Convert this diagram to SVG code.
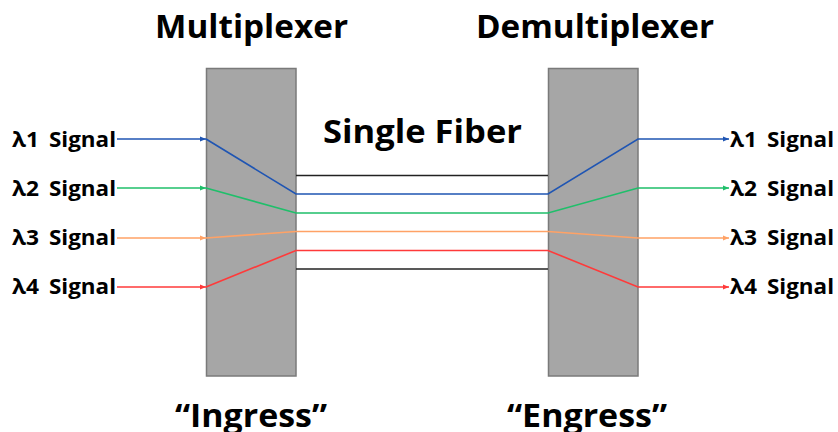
<svg xmlns="http://www.w3.org/2000/svg" width="838" height="432" viewBox="0 0 838 432">
<style>
.t{font-family:"Open Sans","Liberation Sans",sans-serif;font-weight:700;fill:#000}
.h{font-size:32px}
.s{font-size:22px}
.box{fill:#a6a6a6;stroke:#7a7a7a;stroke-width:1.5}
.w{fill:none;stroke-width:1.6}
.b{stroke:#1f55b3}.g{stroke:#1fbf6a}.o{stroke:#ffa266}.r{stroke:#ff3a3a}.k{stroke:#222;stroke-width:1.6}
</style>
<defs>
<marker id="ab" viewBox="0 0 10 10" refX="10" refY="5" markerWidth="6" markerHeight="6" orient="auto" markerUnits="userSpaceOnUse"><path d="M0,1 L10,5 L0,9 Z" fill="#1f55b3"/></marker>
<marker id="ag" viewBox="0 0 10 10" refX="10" refY="5" markerWidth="6" markerHeight="6" orient="auto" markerUnits="userSpaceOnUse"><path d="M0,1 L10,5 L0,9 Z" fill="#1fbf6a"/></marker>
<marker id="ao" viewBox="0 0 10 10" refX="10" refY="5" markerWidth="6" markerHeight="6" orient="auto" markerUnits="userSpaceOnUse"><path d="M0,1 L10,5 L0,9 Z" fill="#ffa266"/></marker>
<marker id="ar" viewBox="0 0 10 10" refX="10" refY="5" markerWidth="6" markerHeight="6" orient="auto" markerUnits="userSpaceOnUse"><path d="M0,1 L10,5 L0,9 Z" fill="#ff3a3a"/></marker>
</defs>
<g id="mux"><rect class="box" x="206.5" y="68.5" width="89.5" height="307.5"/></g>
<g id="demux"><rect class="box" x="548.5" y="68.5" width="89.5" height="307.5"/></g>
<g id="connectors">
<line class="k" x1="296" y1="175.5" x2="548" y2="175.5"/>
<line class="k" x1="296" y1="269" x2="548" y2="269"/>
<line class="w b" x1="117" y1="139" x2="206" y2="139" marker-end="url(#ab)"/>
<line class="w g" x1="117" y1="188" x2="206" y2="188" marker-end="url(#ag)"/>
<line class="w o" x1="117" y1="238" x2="206" y2="238" marker-end="url(#ao)"/>
<line class="w r" x1="117" y1="287" x2="206" y2="287" marker-end="url(#ar)"/>
<polyline class="w b" points="206,139 296,194 548,194 638,139 729,139" marker-end="url(#ab)"/>
<polyline class="w g" points="206,188 296,213 548,213 638,188 729,188" marker-end="url(#ag)"/>
<polyline class="w o" points="206,238 296,231.5 548,231.5 638,238 729,238" marker-end="url(#ao)"/>
<polyline class="w r" points="206,287 296,250.5 548,250.5 638,287 729,287" marker-end="url(#ar)"/>
</g>
<g id="labels">
<text class="t h" x="155" y="38" textLength="193" lengthAdjust="spacingAndGlyphs">Multiplexer</text>
<text class="t h" x="476" y="38" textLength="238" lengthAdjust="spacingAndGlyphs">Demultiplexer</text>
<text class="t h" x="323" y="143" textLength="199" lengthAdjust="spacingAndGlyphs">Single Fiber</text>
<text class="t h" x="175" y="427" textLength="152" lengthAdjust="spacingAndGlyphs">“Ingress”</text>
<text class="t h" x="507" y="427" textLength="160" lengthAdjust="spacingAndGlyphs">“Engress”</text>
<g class="t s">
<text x="12" y="147" textLength="27" lengthAdjust="spacingAndGlyphs">λ1</text><text x="49" y="147" textLength="67" lengthAdjust="spacingAndGlyphs">Signal</text>
<text x="12" y="196" textLength="27" lengthAdjust="spacingAndGlyphs">λ2</text><text x="49" y="196" textLength="67" lengthAdjust="spacingAndGlyphs">Signal</text>
<text x="12" y="245" textLength="27" lengthAdjust="spacingAndGlyphs">λ3</text><text x="49" y="245" textLength="67" lengthAdjust="spacingAndGlyphs">Signal</text>
<text x="12" y="294" textLength="27" lengthAdjust="spacingAndGlyphs">λ4</text><text x="49" y="294" textLength="67" lengthAdjust="spacingAndGlyphs">Signal</text>
<text x="730" y="147" textLength="27" lengthAdjust="spacingAndGlyphs">λ1</text><text x="767" y="147" textLength="67" lengthAdjust="spacingAndGlyphs">Signal</text>
<text x="730" y="196" textLength="27" lengthAdjust="spacingAndGlyphs">λ2</text><text x="767" y="196" textLength="67" lengthAdjust="spacingAndGlyphs">Signal</text>
<text x="730" y="245" textLength="27" lengthAdjust="spacingAndGlyphs">λ3</text><text x="767" y="245" textLength="67" lengthAdjust="spacingAndGlyphs">Signal</text>
<text x="730" y="294" textLength="27" lengthAdjust="spacingAndGlyphs">λ4</text><text x="767" y="294" textLength="67" lengthAdjust="spacingAndGlyphs">Signal</text>
</g>
</g>
</svg>
